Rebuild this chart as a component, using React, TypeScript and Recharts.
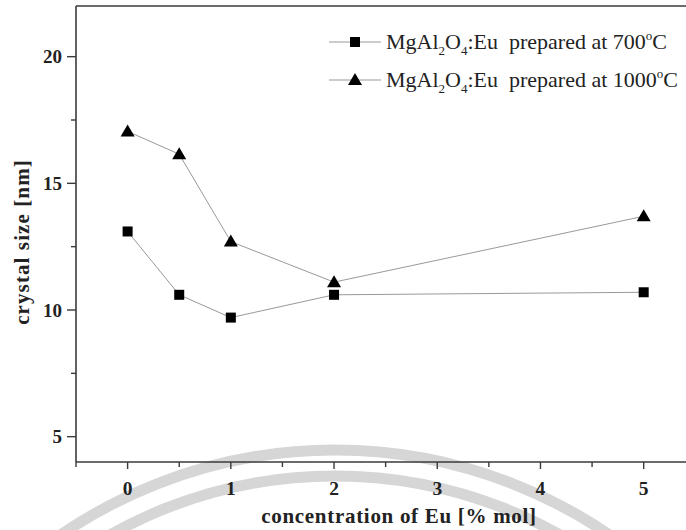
import React from 'react';
import { LineChart, Line, XAxis, YAxis, ReferenceLine } from 'recharts';

const concentration = [0, 0.5, 1, 2, 5];
const size700 = [13.1, 10.6, 9.7, 10.6, 10.7];
const size1000 = [17.05, 16.15, 12.7, 11.1, 13.7];
const seriesNames = ['700', '1000'];
const xTicks = [-0.5, 0, 0.5, 1, 1.5, 2, 2.5, 3, 3.5, 4, 4.5, 5];
const yTicks = [5, 7.5, 10, 12.5, 15, 17.5, 20];
const xTitle = 'concentration of Eu [% mol]';
const yTitle = 'crystal size [nm]';

const data = concentration.map((c, i) => ({ x: c, s700: size700[i], s1000: size1000[i] }));

const FONT = '"Liberation Serif", "Times New Roman", serif';
const AXIS = '#3a3a3a';

const SquareDot = (props: any) => {
  const { cx, cy } = props;
  if (cx == null || cy == null) return null;
  return <rect x={cx - 5} y={cy - 5} width={10} height={10} fill="#000" />;
};
const TriangleDot = (props: any) => {
  const { cx, cy } = props;
  if (cx == null || cy == null) return null;
  return <path d={`M${cx - 7},${cy + 5} L${cx + 7},${cy + 5} L${cx},${cy - 7} Z`} fill="#000" />;
};

const XTick = (props: any) => {
  const { x, y, payload } = props;
  const major = Number.isInteger(payload.value);
  return (
    <g>
      <line x1={x} y1={y} x2={x} y2={y + (major ? 7 : 5)} stroke={AXIS} strokeWidth={1.4} />
      {major && (
        <text x={x} y={y + 33} textAnchor="middle" fontFamily={FONT} fontWeight="bold" fontSize={19.5} fill="#222">
          {payload.value}
        </text>
      )}
    </g>
  );
};

const YTick = (props: any) => {
  const { x, y, payload } = props;
  const major = Number.isInteger(payload.value);
  return (
    <g>
      <line x1={x} y1={y} x2={x - (major ? 9 : 5)} y2={y} stroke={AXIS} strokeWidth={1.4} />
      {major && (
        <text x={x - 14} y={y + 6.5} textAnchor="end" fontFamily={FONT} fontWeight="bold" fontSize={19} fill="#222">
          {payload.value}
        </text>
      )}
    </g>
  );
};

const XLabel = (props: any) => {
  const vb = props.viewBox || {};
  return (
    <text x={vb.x + 323} y={vb.y + 61} textAnchor="middle" fontFamily={FONT} fontWeight="bold" fontSize={21} letterSpacing={0.7} fill="#222">
      {xTitle}
    </text>
  );
};
const YLabel = (props: any) => {
  const vb = props.viewBox || {};
  const cx = vb.x + 22;
  const cy = vb.y + vb.height / 2 + 8;
  return (
    <text x={cx} y={cy} transform={`rotate(-90, ${cx}, ${cy})`} textAnchor="middle" dominantBaseline="central" fontFamily={FONT} fontWeight="bold" fontSize={21} letterSpacing={1.1} fill="#222">
      {yTitle}
    </text>
  );
};

const LegendMarker = ({ kind }: { kind: string }) => (
  <svg width={56} height={20} style={{ display: 'block' }}>
    <line x1={2} y1={10} x2={54} y2={10} stroke="#999" strokeWidth={1} />
    {kind === '700' ? (
      <rect x={23} y={5} width={10} height={10} fill="#000" />
    ) : (
      <path d="M21,15 L35,15 L28,3 Z" fill="#000" />
    )}
  </svg>
);

const sub = { fontSize: 13, position: 'relative' as const, top: 6 };
const sup = { fontSize: 13, position: 'relative' as const, top: -9 };

const LegendBox = () => (
  <div style={{ position: 'absolute', left: 327, top: 23, fontFamily: FONT, fontSize: 22, color: '#222' }}>
    {seriesNames.map((t) => (
      <div key={t} style={{ height: 38, display: 'flex', alignItems: 'center', whiteSpace: 'nowrap' }}>
        <LegendMarker kind={t} />
        <span style={{ marginLeft: 3 }}>
          MgAl<span style={sub}>2</span>O<span style={sub}>4</span>:Eu&nbsp;&nbsp;prepared at {t}
          <span style={sup}>o</span>C
        </span>
      </div>
    ))}
  </div>
);

const Watermark = () => (
  <svg width={686} height={530} style={{ position: 'absolute', left: 0, top: 0 }}>
    <circle cx={335} cy={935} r={485} fill="none" stroke="#d6d6d6" strokeWidth={11} />
    <circle cx={335} cy={935} r={459} fill="none" stroke="#d6d6d6" strokeWidth={11} />
  </svg>
);

export default function App() {
  return (
    <div style={{ position: 'absolute', left: 0, top: 0, width: 686, height: 530, background: '#fff', overflow: 'hidden' }}>
      <Watermark />
      <div style={{ position: 'absolute', left: 0, top: 0 }}>
        <LineChart width={686} height={530} data={data} margin={{ top: 6, right: 0, left: 0, bottom: 0 }}>
          <XAxis
            type="number"
            dataKey="x"
            domain={[-0.5, 5.41]}
            allowDataOverflow
            ticks={xTicks}
            interval={0}
            height={68}
            tickSize={0}
            tickMargin={0}
            tick={<XTick />}
            axisLine={{ stroke: AXIS, strokeWidth: 1.6 }}
            label={<XLabel />}
          />
          <YAxis
            type="number"
            domain={[4, 22]}
            allowDataOverflow
            ticks={yTicks}
            interval={0}
            width={76}
            tickSize={0}
            tickMargin={0}
            tick={<YTick />}
            axisLine={{ stroke: AXIS, strokeWidth: 1.6 }}
            label={<YLabel />}
          />
          <ReferenceLine y={22} stroke={AXIS} strokeWidth={1.6} />
          <Line dataKey="s700" name={seriesNames[0]} stroke="#999" strokeWidth={1} dot={<SquareDot />} activeDot={false} isAnimationActive={false} />
          <Line dataKey="s1000" name={seriesNames[1]} stroke="#999" strokeWidth={1} dot={<TriangleDot />} activeDot={false} isAnimationActive={false} />
        </LineChart>
      </div>
      <LegendBox />
    </div>
  );
}
